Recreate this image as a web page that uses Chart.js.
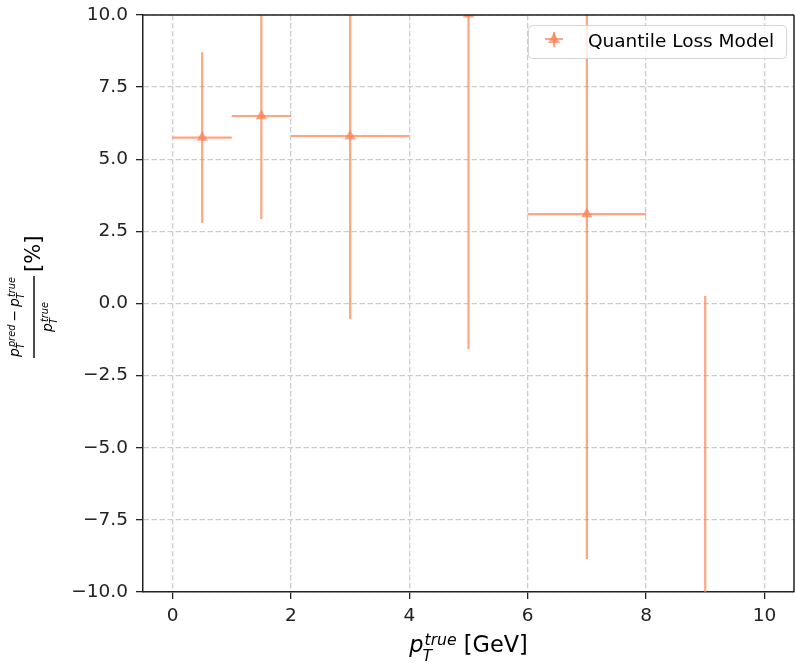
<!DOCTYPE html>
<html>
<head>
<meta charset="utf-8">
<script src="https://cdn.jsdelivr.net/npm/chart.js@4.4.1/dist/chart.umd.min.js"></script>
<style>
  html, body { margin: 0; padding: 0; background: #fff; }
  #wrap { width: 795px; height: 663px; position: relative; }
</style>
</head>
<body>
<div id="wrap"><canvas id="resChart"></canvas></div>
<script>
// binned pT resolution
var binCenters = [0.5, 1.5, 3, 5, 7, 9];
var binHalfWidths = [0.5, 0.5, 1, 1, 1, 1];
var meanRes = [5.75, 6.5, 5.8, 10.03, 3.1, -12.0];
var resErr = [2.96, 3.57, 6.34, 11.61, 11.96, 12.26];
var xTicks = [0, 2, 4, 6, 8, 10];
var yTicks = [-10, -7.5, -5, -2.5, 0, 2.5, 5, 7.5, 10];
var seriesLabel = "Quantile Loss Model";

var lineColor = "rgba(255,127,80,0.7)";
var FONT = "'DejaVu Sans', sans-serif";

var points = [];
for (var i = 0; i < binCenters.length; i++) {
  points.push({x: binCenters[i], y: meanRes[i]});
}

function fmtTick(v, dec) {
  var s = Math.abs(v).toFixed(dec);
  return (v < 0 ? "\u2212" : "") + s;
}

// p_T with sub/superscript, returns width
function drawPT(ctx, x, y, size, sup, doDraw) {
  ctx.font = "italic " + size + "px " + FONT;
  var pw = ctx.measureText("p").width;
  if (doDraw) ctx.fillText("p", x, y);
  var small = size * 0.7;
  ctx.font = "italic " + small + "px " + FONT;
  var supW = ctx.measureText(sup).width;
  var subW = ctx.measureText("T").width;
  if (doDraw) {
    ctx.fillText(sup, x + pw + 1, y - size * 0.3);
    ctx.fillText("T", x + pw - 1, y + size * 0.38);
  }
  return pw + 1 + Math.max(supW, subW);
}

var errorBars = {
  id: "errorBars",
  beforeDatasetsDraw: function(chart) {
    var ctx = chart.ctx, xs = chart.scales.x, ys = chart.scales.y, a = chart.chartArea;
    ctx.save();
    ctx.beginPath();
    ctx.rect(a.left, a.top, a.right - a.left, a.bottom - a.top);
    ctx.clip();
    ctx.strokeStyle = lineColor;
    ctx.lineWidth = 2.2;
    for (var i = 0; i < binCenters.length; i++) {
      var px = xs.getPixelForValue(binCenters[i]);
      var py = ys.getPixelForValue(meanRes[i]);
      ctx.beginPath();
      ctx.moveTo(xs.getPixelForValue(binCenters[i] - binHalfWidths[i]), py);
      ctx.lineTo(xs.getPixelForValue(binCenters[i] + binHalfWidths[i]), py);
      ctx.moveTo(px, ys.getPixelForValue(meanRes[i] - resErr[i]));
      ctx.lineTo(px, ys.getPixelForValue(meanRes[i] + resErr[i]));
      ctx.stroke();
    }
    ctx.restore();
  },
  afterDatasetsDraw: function(chart) {
    var ctx = chart.ctx, a = chart.chartArea;
    ctx.save();
    // top/right spines
    ctx.strokeStyle = "#222";
    ctx.lineWidth = 1.5;
    ctx.beginPath();
    ctx.moveTo(a.left, a.top);
    ctx.lineTo(a.right, a.top);
    ctx.moveTo(a.right, a.top);
    ctx.lineTo(a.right, a.bottom);
    ctx.stroke();

    // legend
    var bx = 528, by = 25, bw = 258, bh = 33;
    ctx.fillStyle = "rgba(255,255,255,0.8)";
    ctx.strokeStyle = "rgba(204,204,204,0.8)";
    ctx.lineWidth = 1;
    ctx.beginPath();
    ctx.roundRect(bx + 0.5, by + 0.5, bw, bh, 4);
    ctx.fill();
    ctx.stroke();
    var mx = 554, my = 39;
    ctx.strokeStyle = lineColor;
    ctx.lineWidth = 2.2;
    ctx.beginPath();
    ctx.moveTo(mx - 9, my); ctx.lineTo(mx + 9, my);
    ctx.moveTo(mx, my - 7); ctx.lineTo(mx, my + 8);
    ctx.stroke();
    ctx.fillStyle = lineColor;
    ctx.beginPath();
    ctx.moveTo(mx, my - 6.5); ctx.lineTo(mx + 6, my + 4); ctx.lineTo(mx - 6, my + 4);
    ctx.closePath();
    ctx.fill();
    ctx.fillStyle = "#000";
    ctx.font = "18.5px " + FONT;
    ctx.textBaseline = "middle";
    ctx.textAlign = "left";
    ctx.fillText(seriesLabel, 588, 42);

    // x axis title
    ctx.textBaseline = "alphabetic";
    var xsz = 22.4;
    var w1 = drawPT(ctx, 0, 0, xsz, "true", false);
    ctx.font = xsz + "px " + FONT;
    var w2 = ctx.measureText(" [GeV]").width;
    var sx = (a.left + a.right) / 2 - (w1 + w2) / 2;
    drawPT(ctx, sx, 652, xsz, "true", true);
    ctx.font = xsz + "px " + FONT;
    ctx.fillText(" [GeV]", sx + w1, 652);

    // y axis title: fraction + [%], drawn rotated
    var fs = 14;
    ctx.save();
    ctx.translate(34, 358);
    ctx.rotate(-Math.PI / 2);
    ctx.font = fs + "px " + FONT;
    var minusW = ctx.measureText("\u2212").width + 6;
    var na = drawPT(ctx, 0, 0, fs, "pred", false);
    var nb = drawPT(ctx, 0, 0, fs, "true", false);
    var numW = na + minusW + nb;
    var fracW = numW + 2;
    // numerator
    drawPT(ctx, 1, -15, fs, "pred", true);
    ctx.font = fs + "px " + FONT;
    ctx.fillText("\u2212", 1 + na + 3, -15);
    drawPT(ctx, 1 + na + minusW, -15, fs, "true", true);
    // bar
    ctx.fillRect(0, -0.7, fracW, 1.4);
    // denominator
    drawPT(ctx, (fracW - nb) / 2, 18, fs, "true", true);
    ctx.font = "21px " + FONT;
    ctx.fillText("[%]", fracW + 4, 6);
    ctx.restore();

    ctx.restore();
  }
};

var ctx = document.getElementById("resChart").getContext("2d");
var resChart = new Chart(ctx, {
  type: "scatter",
  data: {
    datasets: [{
      label: seriesLabel,
      data: points,
      pointStyle: "triangle",
      pointRadius: 6.5,
      pointHoverRadius: 6.5,
      backgroundColor: lineColor,
      borderColor: lineColor,
      borderWidth: 0,
      clip: 0
    }]
  },
  options: {
    responsive: true,
    maintainAspectRatio: false,
    animation: false,
    events: [],
    layout: { autoPadding: false, padding: { top: 15, right: 1, left: 0, bottom: 0 } },
    plugins: { legend: { display: false }, tooltip: { enabled: false } },
    scales: {
      x: {
        type: "linear",
        min: -0.5,
        max: 10.5,
        afterBuildTicks: function(s) { s.ticks = xTicks.map(function(v) { return {value: v}; }); },
        afterFit: function(s) { s.height = 71; s.paddingRight = 0; s.paddingLeft = 0; },
        ticks: {
          color: "#222",
          font: { family: FONT, size: 18.5 },
          padding: 6,
          maxRotation: 0,
          callback: function(v) { return fmtTick(v, 0); }
        },
        grid: { color: "#cccccc", tickColor: "#222", tickLength: 7, lineWidth: 1.3 },
        border: { color: "#222", width: 1.5, dash: [5.5, 2.5] }
      },
      y: {
        type: "linear",
        min: -10,
        max: 10,
        afterBuildTicks: function(s) { s.ticks = yTicks.map(function(v) { return {value: v}; }); },
        afterFit: function(s) { s.width = 143; s.paddingTop = 0; s.paddingBottom = 0; },
        ticks: {
          color: "#222",
          font: { family: FONT, size: 18.5 },
          padding: 8,
          callback: function(v) { return fmtTick(v, 1); }
        },
        grid: { color: "#cccccc", tickColor: "#222", tickLength: 7, lineWidth: 1.3 },
        border: { color: "#222", width: 1.5, dash: [5.5, 2.5] }
      }
    }
  },
  plugins: [errorBars]
});
</script>
</body>
</html>
